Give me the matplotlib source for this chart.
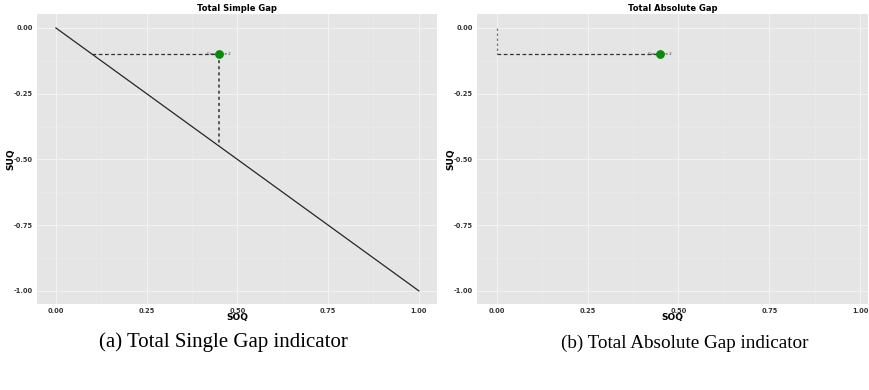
import matplotlib
matplotlib.use("Agg")
import matplotlib.pyplot as plt
from matplotlib.ticker import MultipleLocator

# data
soq_point = [0.45]
suq_point = [-0.10]
point_label = "Candidate 2"

diag_x = [0.0, 1.0]
diag_y = [0.0, -1.0]

# simple gap guides
simple_h_x = [0.10, 0.45]
simple_h_y = [-0.10, -0.10]
simple_v_x = [0.45, 0.45]
simple_v_y = [-0.10, -0.45]

# absolute gap guides
abs_v_x = [0.0, 0.0]
abs_v_y = [0.0, -0.10]
abs_h_x = [0.0, 0.45]
abs_h_y = [-0.10, -0.10]

ticks = [0.0, 0.25, 0.5, 0.75, 1.0]
yticks = [0.0, -0.25, -0.5, -0.75, -1.0]

titles = ["Total Simple Gap", "Total Absolute Gap"]
captions = ["(a) Total Single Gap indicator", "(b) Total Absolute Gap indicator"]

panel_bg = "#E5E5E5"


def style_ax(ax, title, xlim):
    ax.set_facecolor(panel_bg)
    ax.set_xlim(*xlim)
    ax.set_ylim(-1.05, 0.053)
    ax.set_xticks(ticks)
    ax.set_xticklabels(["%.2f" % t for t in ticks])
    ax.set_yticks(yticks)
    ax.set_yticklabels(["%.2f" % t for t in yticks])
    ax.xaxis.set_minor_locator(MultipleLocator(0.125))
    ax.yaxis.set_minor_locator(MultipleLocator(0.125))
    ax.grid(which="major", color="#F3F3F3", lw=0.7)
    ax.grid(which="minor", color="#ECECEC", lw=0.4)
    ax.set_axisbelow(True)
    for s in ax.spines.values():
        s.set_visible(False)
    ax.tick_params(which="both", length=0, labelsize=4.8, pad=3)
    for lab in ax.get_xticklabels() + ax.get_yticklabels():
        lab.set_fontweight("bold")
        lab.set_color("#333333")
    ax.set_title(title, fontsize=6, fontweight="bold", pad=2)
    ax.set_xlabel("SOQ", fontsize=6.5, fontweight="bold", labelpad=-1)
    ax.set_ylabel("SUQ", fontsize=6.5, fontweight="bold", labelpad=-1)


fig = plt.figure(figsize=(8.7, 3.9), dpi=100)
ax1 = fig.add_axes([37 / 870, 1 - 304 / 390, 400 / 870, 290 / 390])
ax2 = fig.add_axes([477 / 870, 1 - 304 / 390, 391 / 870, 290 / 390])

# left: simple gap
ax1.plot(diag_x, diag_y, color="#262626", lw=0.9)
ax1.plot(simple_h_x, simple_h_y, color="#333333", lw=0.9, ls=(0, (3, 2)))
ax1.plot(simple_v_x, simple_v_y, color="#333333", lw=1.1, ls=(0, (2, 2)))
ax1.scatter(soq_point, suq_point, s=28, color="#0A8A0A", zorder=5)
ax1.text(soq_point[0], suq_point[0], point_label, fontsize=2.8,
         ha="center", va="center", color="#333333", zorder=4)
style_ax(ax1, titles[0], (-0.052, 1.05))

# right: absolute gap
ax2.plot(abs_v_x, abs_v_y, color="#777777", lw=0.9, ls=(0, (2, 2)))
ax2.plot(abs_h_x, abs_h_y, color="#333333", lw=0.9, ls=(0, (3, 2)))
ax2.scatter(soq_point, suq_point, s=28, color="#0A8A0A", zorder=5)
ax2.text(soq_point[0], suq_point[0], point_label, fontsize=2.8,
         ha="center", va="center", color="#333333", zorder=4)
style_ax(ax2, titles[1], (-0.055, 1.022))

fig.text(223 / 870, 1 - 342 / 390, captions[0], family="Liberation Serif",
         fontsize=15, ha="center", va="center")
fig.text(685 / 870, 1 - 343 / 390, captions[1], family="Liberation Serif",
         fontsize=13.8, ha="center", va="center")

fig.savefig("out.png", dpi=100)
